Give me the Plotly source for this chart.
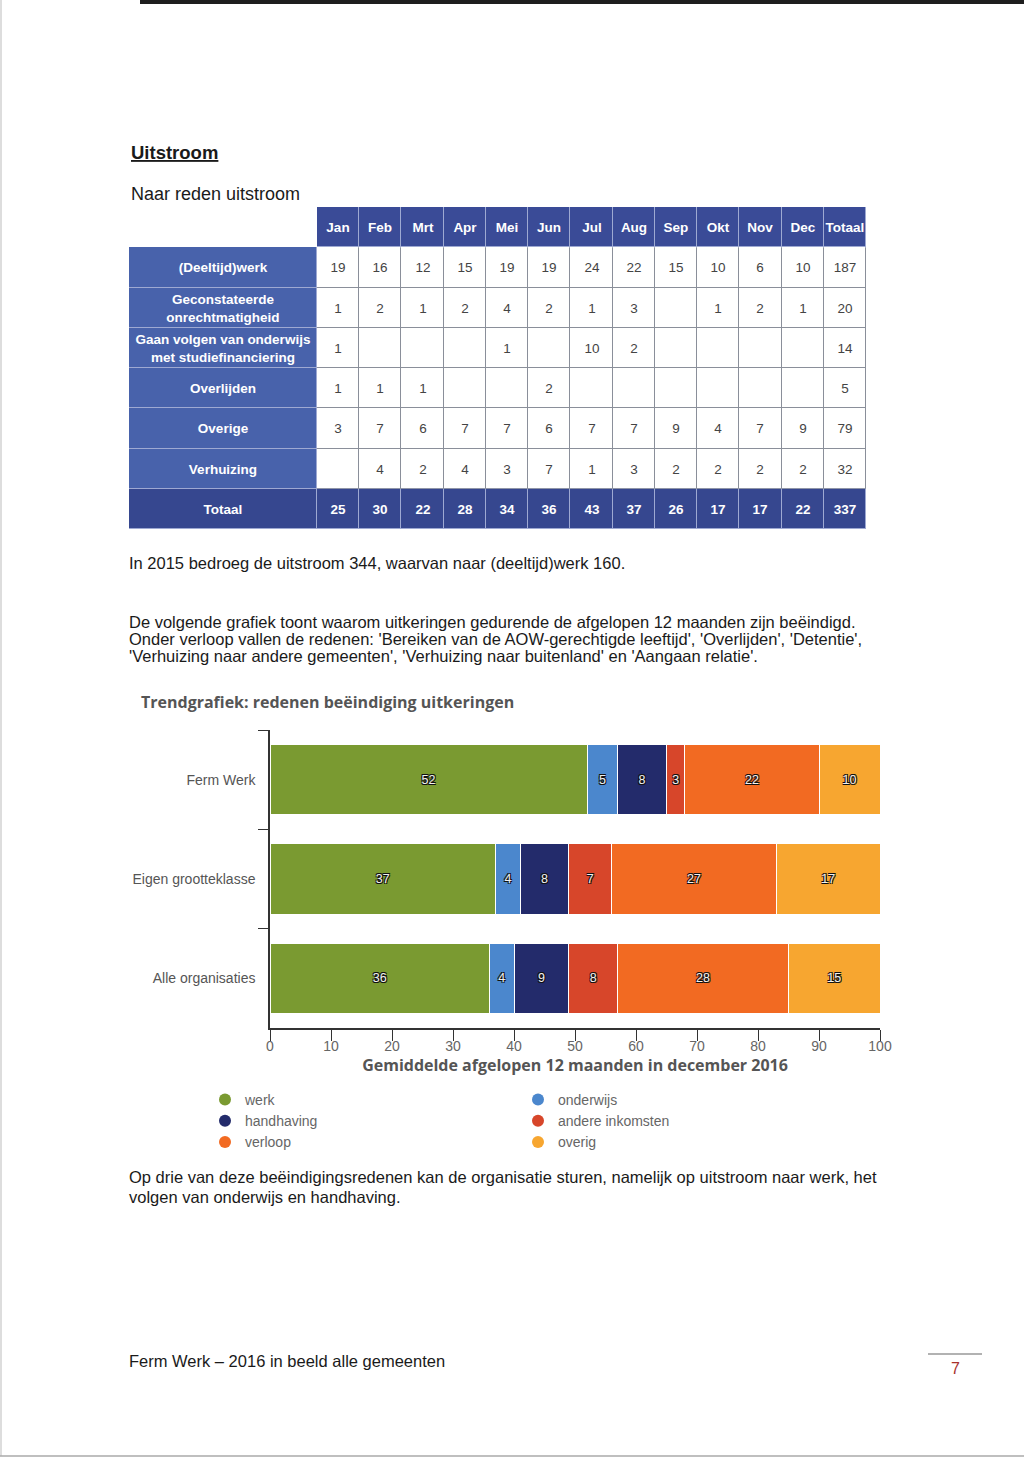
import plotly.graph_objects as go

W, H = 1024, 1461


def fx(p):
    return p / W


def fy(p):
    return 1 - p / H


# ---------------- table data ----------------
months = ["Jan", "Feb", "Mrt", "Apr", "Mei", "Jun", "Jul", "Aug", "Sep", "Okt", "Nov", "Dec"]
total_header = "Totaal"
row_labels = [
    "(Deeltijd)werk",
    "Geconstateerde<br>onrechtmatigheid",
    "Gaan volgen van onderwijs<br>met studiefinanciering",
    "Overlijden",
    "Overige",
    "Verhuizing",
]
werk_m = [19, 16, 12, 15, 19, 19, 24, 22, 15, 10, 6, 10]
onrecht_m = [1, 2, 1, 2, 4, 2, 1, 3, None, 1, 2, 1]
onderwijs_m = [1, None, None, None, 1, None, 10, 2, None, None, None, None]
overlijden_m = [1, 1, 1, None, None, 2, None, None, None, None, None, None]
overige_m = [3, 7, 6, 7, 7, 6, 7, 7, 9, 4, 7, 9]
verhuizing_m = [None, 4, 2, 4, 3, 7, 1, 3, 2, 2, 2, 2]
row_totals = [187, 20, 14, 5, 79, 32]
month_totals = [25, 30, 22, 28, 34, 36, 43, 37, 26, 17, 17, 22]
grand_total = 337

# ---------------- chart data ----------------
orgs = ["Ferm Werk", "Eigen grootteklasse", "Alle organisaties"]
werk_pct = [52, 37, 36]
onderwijs_pct = [5, 4, 4]
handhaving_pct = [8, 8, 9]
andere_pct = [3, 7, 8]
verloop_pct = [22, 27, 28]
overig_pct = [10, 17, 15]
series_names = ["werk", "onderwijs", "handhaving", "andere inkomsten", "verloop", "overig"]
series_vals = [werk_pct, onderwijs_pct, handhaving_pct, andere_pct, verloop_pct, overig_pct]
series_colors = ["#7a9a31", "#4b87cd", "#232b6b", "#d7462a", "#f26a22", "#f7a630"]

FONT = "Liberation Sans, Arial, sans-serif"
HFONT = "Open Sans, DejaVu Sans, sans-serif"

fig = go.Figure()

# ---------------- table as heatmap ----------------
rows_vals = [werk_m, onrecht_m, onderwijs_m, overlijden_m, overige_m, verhuizing_m]


def fmt(v):
    return "" if v is None else str(v)


tbl_text = [[""] + ["<b>%s</b>" % h for h in months + [total_header]]]
tbl_z = [[0] + [1] * 13]
for lab, vals, tot in zip(row_labels, rows_vals, row_totals):
    tbl_text.append(["<b>%s</b>" % lab] + [fmt(v) for v in vals] + [str(tot)])
    tbl_z.append([2] + [0] * 13)
tbl_text.append(["<b>Totaal</b>"] + ["<b>%d</b>" % v for v in month_totals + [grand_total]])
tbl_z.append([3] * 14)

LABEL_W = 188.0
TABLE_W = 737.0
CELL_W = (TABLE_W - LABEL_W) / 13
x_edges = [0.0, LABEL_W] + [LABEL_W + CELL_W * (i + 1) for i in range(13)]
y_edges = list(range(len(tbl_z) + 1))
N_ROWS = len(tbl_z)

fig.add_trace(go.Heatmap(
    z=tbl_z, x=x_edges, y=y_edges, text=tbl_text, texttemplate="%{text}",
    textfont=dict(family=FONT, size=13.5),
    colorscale=[[0, "#ffffff"], [1 / 3, "#3a4b97"], [2 / 3, "#4862ab"], [1, "#36478f"]],
    zmin=0, zmax=3, showscale=False, xgap=1, ygap=1, hoverinfo="skip",
    xaxis="x2", yaxis="y2",
))

# ---------------- stacked bar chart ----------------
for name, vals, col in zip(series_names, series_vals, series_colors):
    fig.add_trace(go.Bar(
        y=orgs, x=vals, orientation="h", name=name,
        marker=dict(color=col, line=dict(color="white", width=1)),
        text=vals, textposition="inside", insidetextanchor="middle", textangle=0,
        textfont=dict(family=FONT, size=12.5, color="#f2f2f2",
                      shadow="1px 1px 0px #111, -1px -1px 0px #111, 1px -1px 0px #111, -1px 1px 0px #111"),
        showlegend=False, hoverinfo="skip", xaxis="x", yaxis="y",
    ))

# legend entries (circle symbols), split in two columns
left_col = ["werk", "handhaving", "verloop"]
for name, col in zip(series_names, series_colors):
    fig.add_trace(go.Scatter(
        x=[None], y=[None], mode="markers", name=name,
        marker=dict(size=12, color=col),
        legend="legend" if name in left_col else "legend2",
        xaxis="x", yaxis="y", hoverinfo="skip",
    ))

leg_common = dict(
    orientation="v", xanchor="left", yanchor="top", bgcolor="rgba(0,0,0,0)",
    font=dict(family=FONT, size=14, color="#666666"), itemwidth=30,
    traceorder="normal", tracegroupgap=0,
)

# ---------------- annotations (page text) ----------------
ann = []


def txt(s, x, y, size=16.5, color="#1a1a1a", family=FONT, xanchor="left"):
    ann.append(dict(text=s, x=fx(x), y=fy(y), xref="paper", yref="paper",
                    xanchor=xanchor, yanchor="middle", showarrow=False,
                    font=dict(family=family, size=size, color=color)))


txt("<b><u>Uitstroom</u></b>", 129, 152, size=18.5)
txt("Naar reden uitstroom", 129, 194, size=18)
txt("In 2015 bedroeg de uitstroom 344, waarvan naar (deeltijd)werk 160.", 127, 563)
txt("De volgende grafiek toont waarom uitkeringen gedurende de afgelopen 12 maanden zijn beëindigd.", 127, 622)
txt("Onder verloop vallen de redenen: 'Bereiken van de AOW-gerechtigde leeftijd', 'Overlijden', 'Detentie',", 127, 639)
txt("'Verhuizing naar andere gemeenten', 'Verhuizing naar buitenland' en 'Aangaan relatie'.", 127, 656)
txt("<b>Trendgrafiek: redenen beëindiging uitkeringen</b>", 139, 702, size=16, color="#555555", family=HFONT)
txt("Op drie van deze beëindigingsredenen kan de organisatie sturen, namelijk op uitstroom naar werk, het", 127, 1177)
txt("volgen van onderwijs en handhaving.", 127, 1197)
txt("Ferm Werk – 2016 in beeld alle gemeenten", 127, 1361)
txt("7", 955, 1368, size=16, color="#a8322c", xanchor="center")

GRID = "#8a8f9a"
GRID_BLUE = "#9ea9d2"
shapes = [
    # table grid background (excluding empty corner)
    dict(type="rect", xref="x2", yref="y2", x0=0, x1=TABLE_W, y0=1, y1=N_ROWS,
         fillcolor=GRID, line=dict(width=0), layer="below"),
    dict(type="rect", xref="x2", yref="y2", x0=LABEL_W, x1=TABLE_W, y0=0, y1=1,
         fillcolor=GRID_BLUE, line=dict(width=0), layer="below"),
    dict(type="rect", xref="x2", yref="y2", x0=0, x1=LABEL_W, y0=1, y1=N_ROWS,
         fillcolor=GRID_BLUE, line=dict(width=0), layer="below"),
    dict(type="rect", xref="x2", yref="y2", x0=0, x1=TABLE_W, y0=N_ROWS - 1, y1=N_ROWS,
         fillcolor=GRID_BLUE, line=dict(width=0), layer="below"),
    # page number rule
    dict(type="line", xref="paper", yref="paper", x0=fx(928), x1=fx(982), y0=fy(1354), y1=fy(1354),
         line=dict(color="#999999", width=1.5)),
    # scan edges
    dict(type="rect", xref="paper", yref="paper", x0=fx(140), x1=1, y0=fy(4), y1=1,
         fillcolor="#1e1e1e", line=dict(width=0)),
    dict(type="line", xref="paper", yref="paper", x0=fx(1), x1=fx(1), y0=fy(1456), y1=1,
         line=dict(color="#bbbbbb", width=1)),
    dict(type="line", xref="paper", yref="paper", x0=0, x1=1, y0=fy(1456), y1=fy(1456),
         line=dict(color="#aaaaaa", width=1.5)),
]

fig.update_layout(
    width=W, height=H, margin=dict(l=0, r=0, t=0, b=0, pad=0, autoexpand=False),
    paper_bgcolor="white", plot_bgcolor="white",
    barmode="stack", bargap=0.29,
    annotations=ann, shapes=shapes,
    legend=dict(x=fx(205), y=fy(1084), **leg_common),
    legend2=dict(x=fx(518), y=fy(1084), **leg_common),
    xaxis=dict(
        domain=[fx(270), fx(880)], anchor="y", range=[0, 100], tick0=0, dtick=10,
        ticks="outside", ticklen=11, tickcolor="#333333", tickwidth=1,
        showline=True, linecolor="#333333", linewidth=1.5, automargin=False,
        showgrid=False, zeroline=False, ticklabelstandoff=-7,
        tickfont=dict(family=FONT, size=14, color="#666666"),
        title=dict(text="<b>Gemiddelde afgelopen 12 maanden in december 2016</b>",
                   font=dict(family=HFONT, size=16, color="#555555"), standoff=4),
    ),
    yaxis=dict(
        domain=[fy(1028), fy(730)], anchor="x", type="category",
        categoryorder="array", categoryarray=orgs[::-1],
        ticks="outside", tickson="boundaries", ticklen=10, tickcolor="#333333",
        showline=True, linecolor="#333333", linewidth=1.5, showgrid=False,
        ticklabelstandoff=10, automargin=False,
        tickfont=dict(family=FONT, size=14, color="#555555"),
    ),
    xaxis2=dict(domain=[fx(129), fx(866)], anchor="y2", range=[0, TABLE_W], visible=False, automargin=False),
    yaxis2=dict(domain=[fy(529), fy(207)], anchor="x2", range=[N_ROWS, 0], visible=False, automargin=False),
)

fig.write_html(
    "out.html",
    config={"displayModeBar": False, "responsive": False},
    post_script=(
        "document.documentElement.style.margin='0';document.documentElement.style.overflow='hidden';"
        "document.body.style.margin='0';document.body.style.padding='0';document.body.style.overflow='hidden';"
    ),
)
